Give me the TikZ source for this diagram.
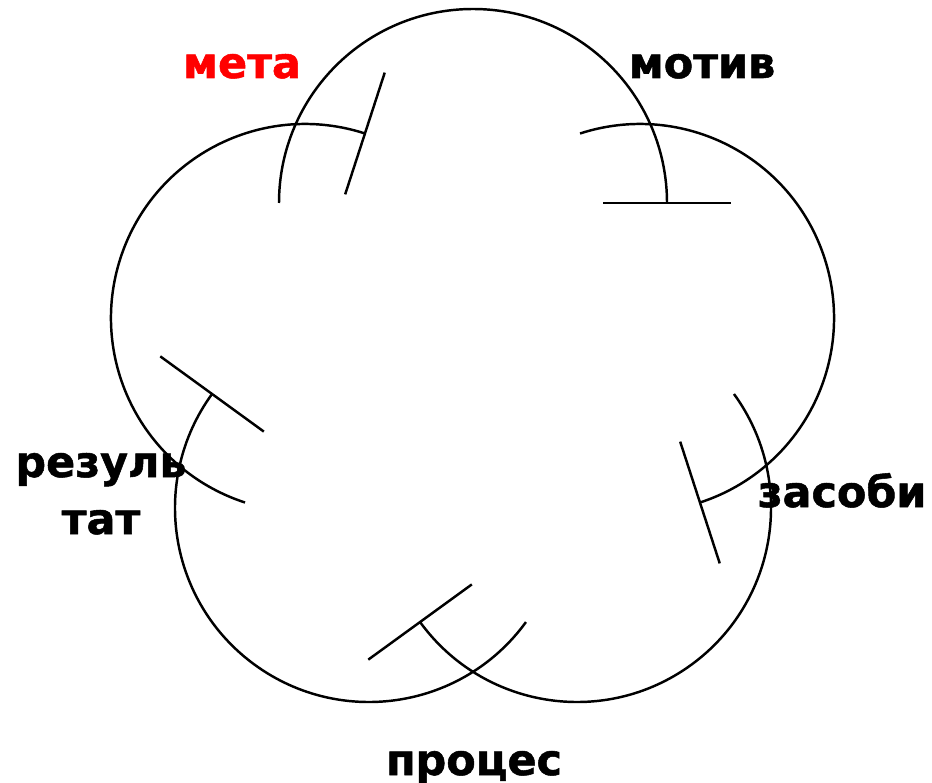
\documentclass[tikz,border=0pt]{standalone}
\usepackage{fontspec}
\setmainfont{DejaVu Sans}
\newfontfamily\lblfont{DejaVu Sans Bold}[FakeBold=1.2]
\usetikzlibrary{calc}
\definecolor{labelred}{RGB}{255,0,0}
\begin{document}
\begin{tikzpicture}[x=0.02cm,y=0.02cm,
  petal/.style={line width=1.4pt, draw=black},
  tickline/.style={line width=1.4pt, draw=black},
  lbl/.style={font=\fontsize{24.4}{28}\lblfont, inner sep=0pt, anchor=base}]
\useasboundingbox (0,0) rectangle (932,-783);
% circle centres
\coordinate (ctop) at (473,-203);
\coordinate (cright) at (640,-318);
\coordinate (clr) at (577,-508);
\coordinate (cll) at (369,-508);
\coordinate (cleft) at (305,-318);
% arcs: from a+90 to a-90 over the outside
\foreach \c/\a in {ctop/90, cright/18, clr/-54, cll/-126, cleft/162}{
  \draw[petal] (\c) ++(\a+90:194) arc[start angle=\a+90, end angle=\a-90, radius=194];
  \draw[tickline] ($(\c)+(\a-90:130)$) -- ($(\c)+(\a-90:258)$);
}
% labels
\node[lbl, text=labelred] (meta) at (242,-78) {мета};
\node[lbl] (motiv) at (702,-78) {мотив};
\node[lbl] (zasobi) at (842,-507) {засоби};
\node[lbl] (rezul) at (101,-477) {резуль};
\node[lbl] (tat) at (101,-534) {тат};
\node[lbl] (proces) at (474,-775) {процес};
\end{tikzpicture}
\end{document}
